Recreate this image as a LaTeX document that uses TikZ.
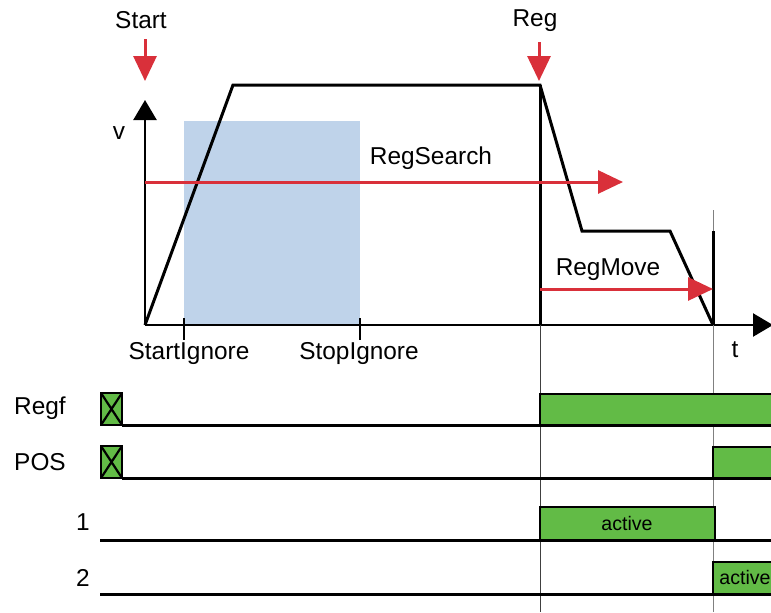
\documentclass[tikz,border=0pt]{standalone}
\usepackage{fontspec}
\setmainfont{Liberation Sans}
\usetikzlibrary{arrows.meta}
\definecolor{regred}{HTML}{D9303A}
\definecolor{sigfill}{HTML}{62BB46}
\definecolor{ignfill}{HTML}{BFD3EA}

\begin{document}
\begin{tikzpicture}[x=0.5pt, y=-0.5pt,
  lbl/.style={font=\fontsize{12.2}{14}\selectfont, inner sep=0pt},
  small/.style={font=\fontsize{9.8}{12}\selectfont, inner sep=0pt},
  axis/.style={line width=1.2pt, -{Triangle[width=11.5pt,length=10pt]}},
  prof/.style={line width=1.5pt, line join=miter},
  redarr/.style={regred, line width=1.5pt, -{Triangle[width=11.5pt,length=12.5pt]}},
  sig/.style={line width=1.5pt},
  sigbox/.style={draw, line width=1.1pt, fill=sigfill},
  guide/.style={line width=0.5pt, black!75},
]

\clip (0,0) rectangle (771,612);

% ignore window
\fill[ignfill] (184,121) rectangle (360,325);

% axes
\coordinate (o) at (145,325);
\coordinate (vtip) at (145,100);
\coordinate (ttip) at (773,325);
\draw[axis] (o) -- (vtip);
\draw[axis] (o) -- (ttip);
\node[lbl] (v) at (119,133) {v};
\node[lbl] (t) at (735,350) {t};

% velocity profile
\coordinate (p1) at (233,85);
\coordinate (p2) at (540,85);
\coordinate (p3) at (582,231);
\coordinate (p4) at (670,231);
\coordinate (p5) at (713,325);
\draw[prof] (o) -- (p1) -- (p2) -- (p3) -- (p4) -- (p5);

% Reg and end position
\coordinate (regbase) at (540,325);
\coordinate (regbot) at (540,612);
\draw[prof] (p2) -- (regbase);
\draw[guide] (regbase) -- (regbot);
\coordinate (endtop) at (713,231);
\coordinate (endguide) at (713,210);
\coordinate (endbot) at (713,612);
\draw[guide, gray] (endguide) -- (endbot);
\draw[prof] (endtop) -- (p5);

% ignore ticks
\coordinate (ign0) at (184,318);
\coordinate (ign1) at (360,318);
\draw[line width=1pt] (ign0) -- ++(0,22);
\draw[line width=1pt] (ign1) -- ++(0,22);
\node[lbl] (startign) at (189,354) {StartIgnore};
\node[lbl] (stopign) at (359,354) {StopIgnore};

% start / reg triggers
\node[lbl] (start) at (141,20) {Start};
\coordinate (starttip) at (145,81);
\draw[redarr] ([yshift=-5pt]start.south -| starttip) -- (starttip);
\node[lbl] (reg) at (535,21) {Reg};
\coordinate (regtip) at (539,81);
\draw[redarr] ([yshift=-5pt]reg.south -| regtip) -- (regtip);

% search / move distances
\coordinate (rs0) at (145,182);
\coordinate (rs1) at (623,182);
\draw[redarr] (rs0) -- (rs1);
\node[lbl] (regsearch) at (431,158) {RegSearch};
\coordinate (rm0) at (540,289);
\coordinate (rm1) at (713,289);
\draw[redarr] (rm0) -- (rm1);
\node[lbl] (regmove) at (608,270) {RegMove};

% timing rows
\node[lbl] (regf) at (40,408) {Regf};
\node[lbl] (pos) at (40,462) {POS};
\node[lbl] (one) at (83,522) {1};
\node[lbl] (two) at (83,578) {2};

% undefined state
\filldraw[sigbox] (101,393) rectangle (122,425);
\draw[line width=1.1pt] (101,393) -- (122,425) (122,393) -- (101,425);
\filldraw[sigbox] (101,446) rectangle (122,478);
\draw[line width=1.1pt] (101,446) -- (122,478) (122,446) -- (101,478);

% Regf
\filldraw[sigbox] (540,425) rectangle (790,394);
\draw[sig] (122,425) -- (771,425);
% POS
\filldraw[sigbox] (713,478) rectangle (790,447);
\draw[sig] (122,478) -- (771,478);
% 1
\filldraw[sigbox] (540,540) rectangle (715,507);
\node[small] (act1) at (627,523) {active};
\draw[sig] (100,540) -- (771,540);
% 2
\filldraw[sigbox] (713,594) rectangle (790,562);
\node[small] (act2) at (745,577) {active};
\draw[sig] (100,594) -- (771,594);

\end{tikzpicture}
\end{document}
